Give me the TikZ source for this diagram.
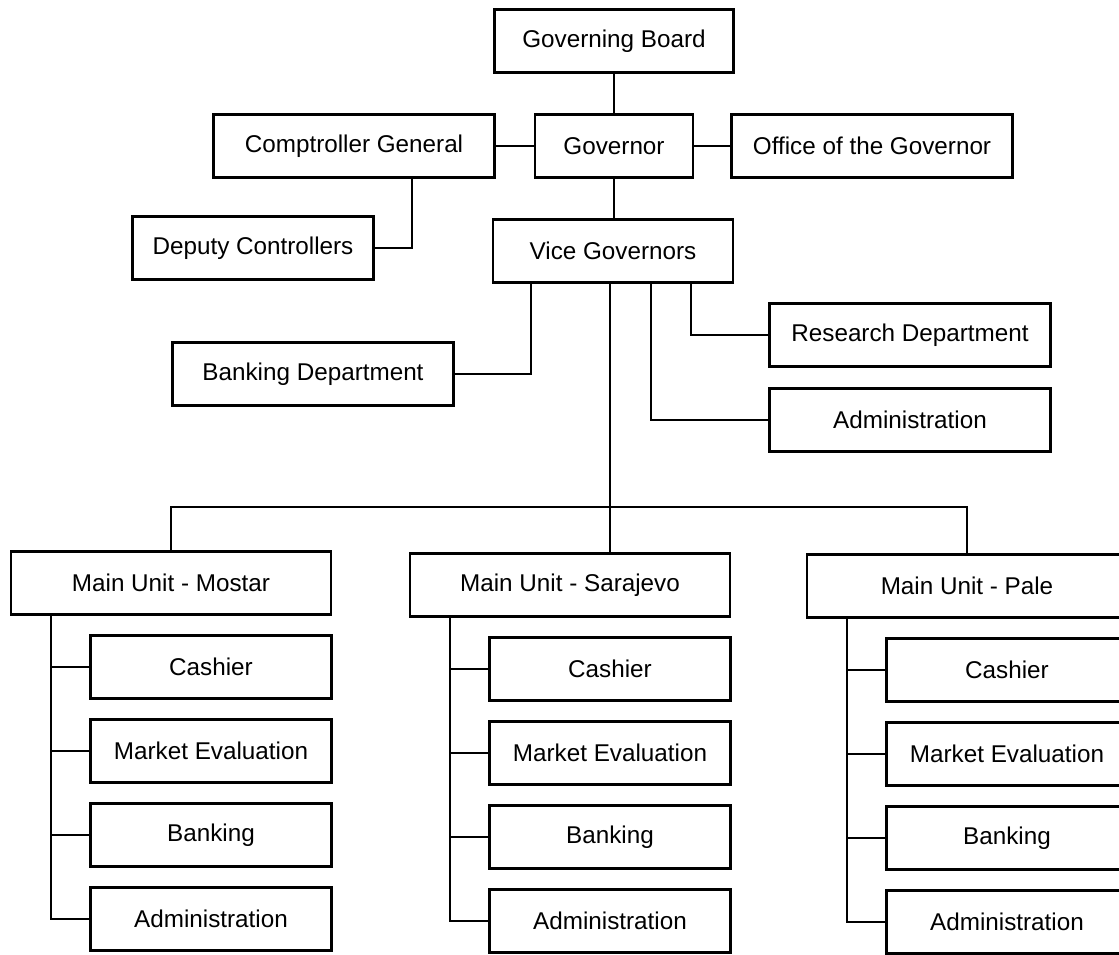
\documentclass[tikz,border=0pt]{standalone}
\usepackage{fontspec}
\setmainfont{Liberation Sans}

\begin{document}
\begin{tikzpicture}[x=0.2mm, y=-0.2mm, font=\fontsize{13.8}{16}\selectfont]
                \useasboundingbox (0,0) rectangle (1119,954);
                \clip (0,0) rectangle (1119,954);

                \tikzset{
                    box/.style = {draw, line width=1.3pt, rectangle, inner sep=0pt,
                            minimum height=12.6mm},
                    wide/.style = {box, minimum width=56.2mm},
                    unit/.style = {box, minimum width=64mm},
                    subunit/.style = {box, minimum width=48.2mm},
                    link/.style = {line width=1pt},
                }

                \node[box, minimum width=47.8mm] (board) at (614,41) {Governing Board};
                \node[box, minimum width=31.6mm] (gov) at (614,146) {Governor};
                \node[wide] (comp) at (354,146) {Comptroller General};
                \node[wide] (office) at (872,146) {Office of the Governor};
                \node[box, minimum width=48.2mm] (deputy) at (253,248) {Deputy Controllers};
                \node[box, minimum width=48mm] (vice) at (613,251) {Vice Governors};
                \node[wide] (research) at (910,335) {Research Department};
                \node[wide] (admin) at (910,420) {Administration};
                \node[wide] (bankdept) at (313,374) {Banking Department};

                \coordinate (cd) at (412,0);
                \coordinate (vb) at (531,0);
                \coordinate (va) at (651,0);
                \coordinate (vr) at (691,0);
                \coordinate (bus) at (610,507);

                \draw[link] (board) -- (gov);
                \draw[link] (comp) -- (gov) -- (office);
                \draw[link] (gov.south) -- (gov.south |- vice.north);
                \draw[link] (comp.south -| cd) |- (deputy.east);
                \draw[link] (vice.south -| vb) |- (bankdept.east);
                \draw[link] (vice.south -| va) |- (admin.west);
                \draw[link] (vice.south -| vr) |- (research.west);

                % main units and their sections
                \foreach \u/\cx/\cy/\place in {mostar/171/583/Mostar, sarajevo/570/585/Sarajevo, pale/967/586/Pale}{
                        \node[unit] (\u) at (\cx,\cy) {Main Unit - \place};
                        \foreach \k/\sub in {1/Cashier, 2/Market Evaluation, 3/Banking, 4/Administration}{
                                \node[subunit] (\u\k) at (\cx+40,\cy+84*\k) {\sub};
                                \draw[link] ([xshift=-24mm]\u.south) |- (\u\k.west);
                            }
                    }

                \draw[link] (vice.south -| bus) -- (bus |- sarajevo.north);
                \draw[link] (mostar.north) |- (bus) -| (pale.north);

            \end{tikzpicture}
\end{document}
